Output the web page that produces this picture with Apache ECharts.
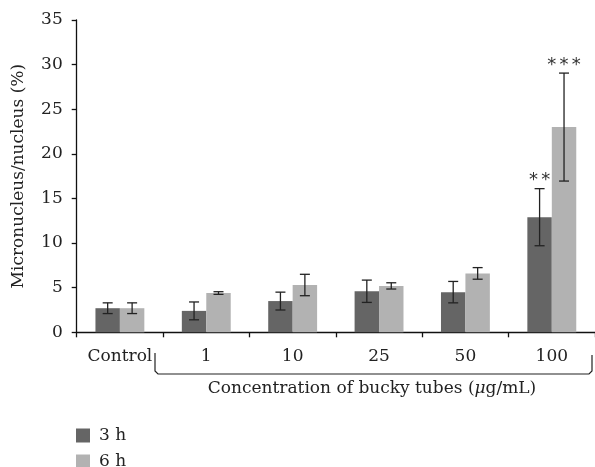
<!DOCTYPE html>
<html>
<head>
<meta charset="utf-8">
<script src="https://cdn.jsdelivr.net/npm/echarts@6/dist/echarts.min.js"></script>
<style>
html, body { margin: 0; padding: 0; background: #fff; }
#chart { width: 595px; height: 467px; }
</style>
</head>
<body>
<div id="chart"></div>
<script>
const categories = ['Control', '1', '10', '25', '50', '100']
const mean3h = [2.7, 2.4, 3.5, 4.6, 4.5, 12.9]
const err3h = [0.6, 1.0, 1.0, 1.25, 1.2, 3.2]
const mean6h = [2.7, 4.4, 5.3, 5.2, 6.6, 23.0]
const err6h = [0.6, 0.15, 1.2, 0.35, 0.65, 6.05]
const sig3h = ['', '', '', '', '', '**']
const sig6h = ['', '', '', '', '', '***']
const yTicks = [0, 5, 10, 15, 20, 25, 30, 35]

const SERIF = '"DejaVu Serif", "Liberation Serif", serif'
const BAR_FRAC = 0.283

function errorItem(sigs, side) {
  return function (params, api) {
    const i = api.value(0)
    const m = api.value(1)
    const e = api.value(2)
    const bw = api.size([1, 0])[0] * BAR_FRAC
    const top = api.coord([i, m + e])
    const bot = api.coord([i, m - e])
    const x = top[0] + side * bw / 2
    const cap = 5
    const st = { stroke: '#222', lineWidth: 1.3 }
    const children = [
      { type: 'line', shape: { x1: x, y1: top[1], x2: x, y2: bot[1] }, style: st },
      { type: 'line', shape: { x1: x - cap, y1: top[1], x2: x + cap, y2: top[1] }, style: st },
      { type: 'line', shape: { x1: x - cap, y1: bot[1], x2: x + cap, y2: bot[1] }, style: st }
    ]
    // significance stars, drawn one by one so the spacing matches
    const n = sigs[i].length
    for (let k = 0; k < n; k++) {
      children.push({
        type: 'text',
        style: {
          text: '*',
          x: x + (k - (n - 1) / 2) * 12.3, y: top[1] + 1,
          textAlign: 'center', textVerticalAlign: 'bottom',
          font: '18px "DejaVu Sans", sans-serif', fill: '#333'
        }
      })
    }
    return { type: 'group', children: children }
  }
}

const legendBase = {
  orient: 'vertical',
  left: 76,
  padding: 0,
  itemWidth: 14, itemHeight: 14,
  icon: 'rect',
  textStyle: { fontFamily: SERIF, fontSize: 17, color: '#222', padding: [0, 0, 0, 4] }
}

const chart = echarts.init(document.getElementById('chart'))
chart.setOption({
  animation: false,
  grid: { left: 76.7, right: -5, top: 20, bottom: 134.7, containLabel: false },
  legend: [
    Object.assign({}, legendBase, { top: 427, data: ['3 h'] }),
    Object.assign({}, legendBase, { top: 453, data: ['6 h'] })
  ],
  xAxis: {
    type: 'category',
    data: categories,
    axisLine: { lineStyle: { color: '#111', width: 1.3 } },
    axisTick: { show: true, length: 5, inside: false, lineStyle: { color: '#111', width: 1.3 } },
    axisLabel: { fontFamily: SERIF, fontSize: 17, color: '#222', margin: 16 }
  },
  yAxis: {
    type: 'value',
    min: 0, max: 35, interval: 5,
    name: 'Micronucleus/nucleus (%)',
    nameLocation: 'middle',
    nameGap: 50,
    nameTextStyle: { fontFamily: SERIF, fontSize: 17, color: '#222' },
    axisLine: { show: true, lineStyle: { color: '#111', width: 1.3 } },
    axisTick: { show: true, length: 5, lineStyle: { color: '#111', width: 1.3 } },
    axisLabel: { fontFamily: SERIF, fontSize: 17, color: '#222', margin: 14,
      formatter: v => yTicks.includes(v) ? String(v) : '' },
    splitLine: { show: false }
  },
  series: [
    { name: '3 h', type: 'bar', data: mean3h, barWidth: (BAR_FRAC * 100) + '%', barGap: '0%',
      itemStyle: { color: '#656565' } },
    { name: '6 h', type: 'bar', data: mean6h, barWidth: (BAR_FRAC * 100) + '%', barGap: '0%',
      itemStyle: { color: '#b2b2b2' } },
    { type: 'custom', renderItem: errorItem(sig3h, -1), z: 5,
      data: mean3h.map((m, i) => [i, m, err3h[i]]) },
    { type: 'custom', renderItem: errorItem(sig6h, 1), z: 5,
      data: mean6h.map((m, i) => [i, m, err6h[i]]) }
  ],
  graphic: [
    {
      type: 'polyline',
      shape: { points: [[155, 353], [155, 371], [158, 374], [589, 374], [592, 371], [592, 355]] },
      style: { stroke: '#222', lineWidth: 1.2, fill: null }
    },
    {
      type: 'text',
      x: 372, y: 389,
      style: {
        text: '{n|Concentration of bucky tubes (}{i|\u03bc}{n|g/mL)}',
        align: 'center', verticalAlign: 'middle',
        rich: {
          n: { fontFamily: SERIF, fontSize: 17, fill: '#222' },
          i: { fontFamily: SERIF, fontSize: 17, fontStyle: 'italic', fill: '#222' }
        }
      }
    }
  ]
})
</script>
</body>
</html>
